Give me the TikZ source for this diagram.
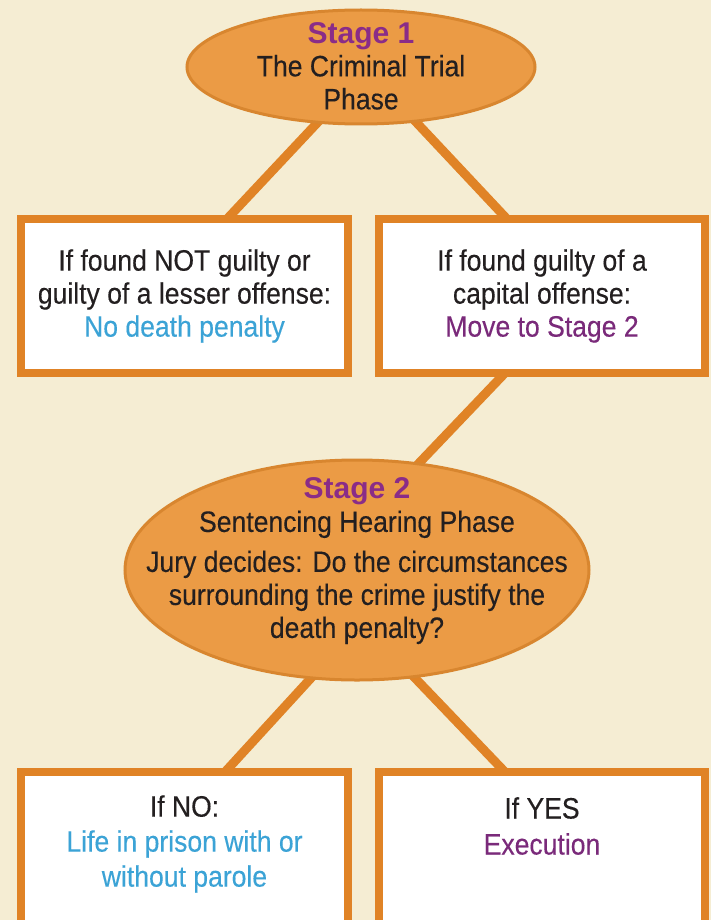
\documentclass[tikz,border=0pt]{standalone}
\usepackage{fontspec}
\setmainfont[FakeStretch=0.9,FakeBold=0.3]{Liberation Sans}
\newfontfamily\headfont{Liberation Sans}
\usetikzlibrary{shapes.geometric}
\definecolor{bgc}{HTML}{F5EDD3}
\definecolor{ellf}{HTML}{EB9B45}
\definecolor{ellb}{HTML}{D8862F}
\definecolor{boxb}{HTML}{E08326}
\definecolor{purp}{HTML}{7A2A7A}
\definecolor{headp}{HTML}{8A2C88}
\definecolor{bluec}{HTML}{3BA3D6}
\definecolor{txtc}{HTML}{231F20}
\pgfdeclarelayer{back}
\pgfdeclarelayer{lines}
\pgfsetlayers{back,lines,main}
\newcommand{\stagehead}[1]{{\headfont\bfseries\fontsize{30}{33}\selectfont\color{headp}#1}}
\begin{document}
\begin{tikzpicture}[x=1pt,y=-1pt,
  ell/.style={ellipse, draw=ellb, line width=3pt, fill=ellf, inner sep=0pt, outer sep=0pt},
  box/.style={rectangle, draw=boxb, line width=8pt, fill=white, inner sep=0pt, outer sep=0pt,
    align=center, text=txtc, font=\fontsize{29.5}{33}\selectfont},
  txt/.style={align=center, inner sep=0pt, text=txtc, font=\fontsize{29.5}{33}\selectfont},
  conn/.style={draw=boxb, line width=9pt}]
\begin{pgfonlayer}{back}
\fill[bgc] (0,0) rectangle (711,920);
\end{pgfonlayer}
\useasboundingbox (0,0) rectangle (711,920);

% Stage 1
\node[ell, minimum width=348pt, minimum height=114pt] (e1) at (361,67) {};
\node[txt] (s1) at (361,66) {\stagehead{Stage 1}\\The Criminal Trial\\Phase};

% first outcomes
\node[box, minimum width=327pt, minimum height=154pt] (b1) at (184.5,296)
  {If found NOT guilty or\\guilty of a lesser offense:\\\textcolor{bluec}{No death penalty}};
\node[box, minimum width=326pt, minimum height=154pt] (b2) at (542,296)
  {If found guilty of a\\capital offense:\\\textcolor{purp}{Move to Stage 2}};

% Stage 2
\node[ell, minimum width=464pt, minimum height=220pt] (e2) at (357,570) {};
\node[txt] (s2) at (357,561) {\stagehead{Stage 2}\\Sentencing Hearing Phase\\[7pt]Jury decides: Do the circumstances\\surrounding the crime justify the\\death penalty?};

% final outcomes
\node[box, minimum width=327pt, minimum height=160pt] (b3) at (184.5,852) {};
\node[txt, font=\fontsize{29.5}{35}\selectfont] (t3) at (184.5,844)
  {If NO:\\\textcolor{bluec}{Life in prison with or}\\\textcolor{bluec}{without parole}};
\node[box, minimum width=326pt, minimum height=160pt] (b4) at (542,852) {};
\node[txt, font=\fontsize{29.5}{36}\selectfont] (t4) at (542,826) {If YES\\\textcolor{purp}{Execution}};

\begin{pgfonlayer}{lines}
\draw[conn, shorten <=-12pt] (e1.232) -- ([xshift=42.5pt]b1.north);
\draw[conn, shorten <=-12pt] (e1.315.5) -- ([xshift=-35pt]b2.north);
\draw[conn, shorten >=-12pt] ([xshift=-37pt]b2.south) -- (e2.60.1);
\draw[conn, shorten <=-12pt] (e2.247.4) -- ([xshift=40.5pt]b3.north);
\draw[conn, shorten <=-12pt] (e2.298.2) -- ([xshift=-37pt]b4.north);
\end{pgfonlayer}
\end{tikzpicture}
\end{document}
